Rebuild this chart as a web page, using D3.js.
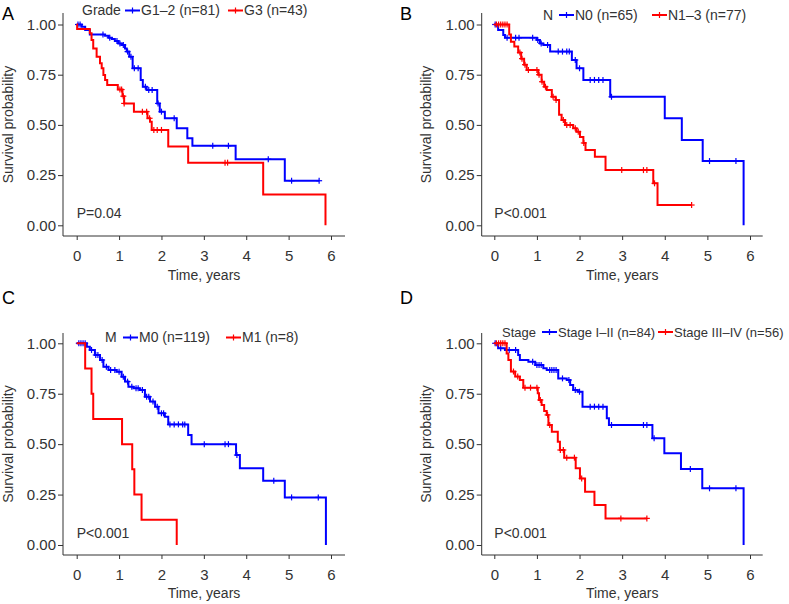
<!DOCTYPE html>
<html>
<head>
<meta charset="utf-8">
<script src="https://cdn.jsdelivr.net/npm/d3@7"></script>
<style>
body { margin: 0; background: #fff; }
svg text { font-family: "Liberation Sans", Arial, Helvetica, sans-serif; }
</style>
</head>
<body>
<svg id="chart" width="789" height="604"></svg>
<script>
// ---- data ----
var xTicks = [0, 1, 2, 3, 4, 5, 6];
var yTicks = [0, 0.25, 0.5, 0.75, 1];

// A: Grade
var gradeLowTimes = [0, 0.12, 0.2, 0.31, 0.67, 0.75, 0.83, 0.9, 0.98, 1.06, 1.14, 1.18, 1.24, 1.32, 1.51, 1.56, 1.65, 1.9, 1.96, 2.08, 2.36, 2.61, 2.73, 3.75, 4.91];
var gradeLowSurv = [1, 0.989, 0.972, 0.95, 0.944, 0.934, 0.928, 0.918, 0.906, 0.898, 0.881, 0.865, 0.84, 0.782, 0.724, 0.69, 0.674, 0.607, 0.566, 0.533, 0.483, 0.433, 0.396, 0.329, 0.222];
var gradeLowCens = [0.03, 0.08, 0.62, 0.78, 0.95, 1.02, 1.1, 1.2, 1.28, 1.36, 1.45, 1.62, 1.7, 1.78, 1.92, 2.0, 2.3, 3.21, 3.58, 4.52, 5.07, 5.72];
var gradeHighTimes = [0, 0.01, 0.31, 0.35, 0.39, 0.47, 0.55, 0.59, 0.63, 0.67, 0.72, 0.97, 1.08, 1.12, 1.35, 1.67, 1.73, 1.77, 2.16, 2.63, 4.4, 5.87];
var gradeHighSurv = [1, 0.977, 0.956, 0.923, 0.88, 0.84, 0.807, 0.782, 0.748, 0.724, 0.699, 0.676, 0.643, 0.607, 0.566, 0.533, 0.516, 0.475, 0.392, 0.312, 0.154, 0];
var gradeHighCens = [1.02, 1.06, 1.1, 1.12, 1.55, 1.65, 1.72, 1.82, 1.9, 2.0, 3.5, 3.56];

// B: N
var n0Times = [0, 0.09, 0.21, 0.25, 1.0, 1.07, 1.15, 1.31, 1.82, 1.93, 2.09, 2.72, 4.0, 4.4, 4.89, 5.85];
var n0Surv = [1, 0.973, 0.948, 0.934, 0.923, 0.906, 0.898, 0.865, 0.823, 0.782, 0.724, 0.64, 0.533, 0.425, 0.32, 0];
var n0Cens = [0.02, 0.3, 0.5, 0.58, 0.9, 1.02, 1.1, 1.25, 1.5, 1.6, 1.7, 1.76, 1.9, 2.0, 2.25, 2.35, 2.45, 2.55, 2.75, 5.05, 5.67];
var n13Times = [0, 0.35, 0.39, 0.47, 0.56, 0.63, 0.7, 0.76, 1.03, 1.11, 1.17, 1.23, 1.35, 1.44, 1.52, 1.58, 1.66, 1.85, 1.93, 2.01, 2.09, 2.14, 2.36, 2.61, 3.73, 3.83];
var n13Surv = [1, 0.95, 0.914, 0.89, 0.86, 0.83, 0.8, 0.773, 0.75, 0.715, 0.69, 0.674, 0.64, 0.624, 0.55, 0.524, 0.5, 0.483, 0.466, 0.44, 0.41, 0.375, 0.342, 0.275, 0.209, 0.101];
var n13Cens = [0.05, 0.1, 0.15, 0.2, 0.25, 0.3, 0.6, 0.65, 0.72, 0.8, 1.0, 1.05, 1.12, 1.2, 1.38, 1.45, 1.62, 1.7, 1.78, 1.9, 1.97, 2.1, 2.99, 3.5, 3.58, 3.76, 4.63];

// C: M
var m0Times = [0, 0.24, 0.31, 0.43, 0.55, 0.63, 0.75, 0.94, 1.06, 1.14, 1.22, 1.34, 1.49, 1.61, 1.73, 1.85, 1.93, 2.08, 2.16, 2.63, 2.71, 3.76, 3.85, 4.4, 4.91, 5.88];
var m0Surv = [1, 0.983, 0.967, 0.942, 0.917, 0.884, 0.868, 0.859, 0.834, 0.81, 0.785, 0.777, 0.768, 0.735, 0.711, 0.686, 0.653, 0.636, 0.598, 0.545, 0.5, 0.446, 0.38, 0.319, 0.236, 0];
var m0Cens = [0.05, 0.1, 0.15, 0.2, 0.35, 0.45, 0.5, 0.6, 0.7, 0.8, 0.9, 1.0, 1.1, 1.2, 1.3, 1.4, 1.45, 1.55, 1.65, 1.7, 1.8, 1.9, 2.0, 2.05, 2.2, 2.3, 2.4, 2.5, 2.55, 3.01, 3.5, 3.58, 3.78, 4.65, 5.07, 5.7];
var m1Times = [0, 0.2, 0.35, 0.39, 1.07, 1.31, 1.36, 1.53, 2.36];
var m1Surv = [1, 0.875, 0.75, 0.625, 0.5, 0.375, 0.25, 0.125, 0];
var m1Cens = [];

// D: Stage
var stageLowTimes = [0, 0.09, 0.25, 0.56, 0.6, 0.8, 0.96, 1.15, 1.23, 1.5, 1.7, 1.78, 1.85, 1.96, 2.07, 2.64, 2.69, 3.71, 3.99, 4.38, 4.88, 5.85];
var stageLowSurv = [1, 0.975, 0.967, 0.942, 0.917, 0.909, 0.892, 0.876, 0.868, 0.826, 0.818, 0.793, 0.769, 0.76, 0.686, 0.628, 0.595, 0.529, 0.455, 0.377, 0.281, 0];
var stageLowCens = [0.02, 0.15, 0.35, 0.5, 0.9, 1.0, 1.05, 1.1, 1.3, 1.35, 1.4, 1.45, 1.6, 1.75, 1.9, 2.0, 2.25, 2.35, 2.45, 2.55, 2.75, 3.5, 3.58, 3.75, 4.6, 5.05, 5.67];
var stageHighTimes = [0, 0.29, 0.33, 0.39, 0.49, 0.6, 0.68, 1.02, 1.05, 1.11, 1.17, 1.23, 1.27, 1.35, 1.49, 1.54, 1.64, 1.91, 2.01, 2.13, 2.35, 2.61];
var stageHighSurv = [1, 0.95, 0.917, 0.86, 0.835, 0.818, 0.78, 0.752, 0.719, 0.694, 0.664, 0.645, 0.595, 0.562, 0.512, 0.471, 0.433, 0.38, 0.33, 0.264, 0.198, 0.132];
var stageHighCens = [0.05, 0.1, 0.15, 0.2, 0.25, 0.45, 0.55, 0.72, 0.85, 1.0, 1.08, 1.25, 1.3, 1.55, 1.62, 1.7, 1.88, 2.05, 2.97, 3.58];

var blue = "#0000ff", red = "#ff0000";

// ---- panel layout ----
var panels = [
	{letter: "A", lx: 2, ly: 20, ax: 63, x0: 76.7, x6: 331, xEnd: 345, yTop: 13, y1: 24.5, y0: 225.3, ay: 236, titleY: 280, ylabX: 13,
		pText: "P=0.04", legY: 15, legFont: 14, legTitle: "Grade", legTitleX: 82, keyX: [125, 228], labels: ["G1\u20132 (n=81)", "G3 (n=43)"],
		curves: [[gradeLowTimes, gradeLowSurv, gradeLowCens, blue], [gradeHighTimes, gradeHighSurv, gradeHighCens, red]]},
	{letter: "B", lx: 400, ly: 20, ax: 481.7, x0: 494.3, x6: 750, xEnd: 762.7, yTop: 13, y1: 24.5, y0: 225.3, ay: 236, titleY: 280, ylabX: 431,
		pText: "P<0.001", legY: 19.5, legFont: 14, legTitle: "N", legTitleX: 543, keyX: [559, 652], labels: ["N0 (n=65)", "N1\u20133 (n=77)"],
		curves: [[n0Times, n0Surv, n0Cens, blue], [n13Times, n13Surv, n13Cens, red]]},
	{letter: "C", lx: 2, ly: 304, ax: 63, x0: 76.7, x6: 331, xEnd: 345, yTop: 333, y1: 343.3, y0: 545, ay: 555, titleY: 598, ylabX: 13,
		pText: "P<0.001", legY: 342, legFont: 14, legTitle: "M", legTitleX: 105, keyX: [123, 226], labels: ["M0 (n=119)", "M1 (n=8)"],
		curves: [[m0Times, m0Surv, m0Cens, blue], [m1Times, m1Surv, m1Cens, red]]},
	{letter: "D", lx: 400, ly: 304, ax: 481.7, x0: 494.3, x6: 750, xEnd: 762.7, yTop: 333, y1: 343.3, y0: 545, ay: 555, titleY: 598, ylabX: 431,
		pText: "P<0.001", legY: 336.5, legFont: 13, legTitle: "Stage", legTitleX: 502, keyX: [542, 658], labels: ["Stage I\u2013II (n=84)", "Stage III\u2013IV (n=56)"],
		curves: [[stageLowTimes, stageLowSurv, stageLowCens, blue], [stageHighTimes, stageHighSurv, stageHighCens, red]]}
];

var svg = d3.select("#chart");
var axisColor = "#333";

function survAt(times, surv, t) {
	var i = d3.bisectRight(times, t) - 1;
	return surv[Math.max(0, i)];
}

function plus(g, cx, cy, color) {
	g.append("line").attr("x1", cx - 3).attr("x2", cx + 3).attr("y1", cy).attr("y2", cy)
		.attr("stroke", color).attr("stroke-width", 1.2);
	g.append("line").attr("x1", cx).attr("x2", cx).attr("y1", cy - 3).attr("y2", cy + 3)
		.attr("stroke", color).attr("stroke-width", 1.2);
}

function drawPanel(p) {
	var g = svg.append("g");
	var x = d3.scaleLinear().domain([0, 6]).range([p.x0, p.x6]);
	var y = d3.scaleLinear().domain([0, 1]).range([p.y0, p.y1]);

	// axes
	var yAxis = g.append("g")
		.attr("transform", "translate(" + p.ax + ",0)")
		.call(d3.axisLeft(y).tickValues(yTicks).tickFormat(d3.format(".2f")).tickSize(5).tickPadding(2));
	var xAxis = g.append("g")
		.attr("transform", "translate(0," + p.ay + ")")
		.call(d3.axisBottom(x).tickValues(xTicks).tickFormat(d3.format("d")).tickSize(4).tickPadding(10));
	[yAxis, xAxis].forEach(function (a) {
		a.select(".domain").remove();
		a.selectAll(".tick line").attr("stroke", axisColor);
		a.selectAll(".tick text").attr("fill", axisColor).style("font-size", "15px");
	});
	g.append("line").attr("x1", p.ax).attr("x2", p.ax).attr("y1", p.yTop).attr("y2", p.ay)
		.attr("stroke", axisColor);
	g.append("line").attr("x1", p.ax).attr("x2", p.xEnd).attr("y1", p.ay).attr("y2", p.ay)
		.attr("stroke", axisColor);

	g.append("text")
		.attr("x", (p.ax + p.xEnd) / 2).attr("y", p.titleY)
		.attr("text-anchor", "middle").style("font-size", "14px").attr("fill", axisColor)
		.text("Time, years");
	g.append("text")
		.attr("transform", "translate(" + p.ylabX + "," + ((p.yTop + p.ay) / 2) + ") rotate(-90)")
		.attr("text-anchor", "middle").style("font-size", "14px").attr("fill", axisColor)
		.text("Survival probability");

	// curves
	var line = d3.line()
		.x(function (d) { return x(d[0]); })
		.y(function (d) { return y(d[1]); })
		.curve(d3.curveStepAfter);

	p.curves.forEach(function (c) {
		var times = c[0], surv = c[1], cens = c[2], color = c[3];
		var pts = times.map(function (t, i) { return [t, surv[i]]; });
		var end = Math.max(times[times.length - 1], cens.length ? cens[cens.length - 1] : 0);
		pts.push([end, surv[surv.length - 1]]);
		g.append("path").datum(pts)
			.attr("d", line)
			.attr("fill", "none")
			.attr("stroke", color)
			.attr("stroke-width", 2);
		cens.forEach(function (t) {
			plus(g, x(t), y(survAt(times, surv, t)), color);
		});
	});

	// p value
	g.append("text")
		.attr("x", x(0)).attr("y", y(0) - 7)
		.style("font-size", "14px").attr("fill", axisColor)
		.text(p.pText);

	// legend
	g.append("text")
		.attr("x", p.legTitleX).attr("y", p.legY)
		.style("font-size", p.legFont + "px").attr("fill", axisColor)
		.text(p.legTitle);
	p.labels.forEach(function (lab, i) {
		var kx = p.keyX[i], ky = p.legY - 4.5, color = p.curves[i][3];
		g.append("line").attr("x1", kx).attr("x2", kx + 15).attr("y1", ky).attr("y2", ky)
			.attr("stroke", color).attr("stroke-width", 2);
		plus(g, kx + 7.5, ky, color);
		g.append("text")
			.attr("x", kx + 16).attr("y", p.legY)
			.style("font-size", p.legFont + "px").attr("fill", axisColor)
			.text(lab);
	});

	// panel letter
	svg.append("text")
		.attr("x", p.lx).attr("y", p.ly)
		.style("font-size", "18px").attr("fill", "#000")
		.text(p.letter);
}

panels.forEach(drawPanel);
</script>
</body>
</html>
